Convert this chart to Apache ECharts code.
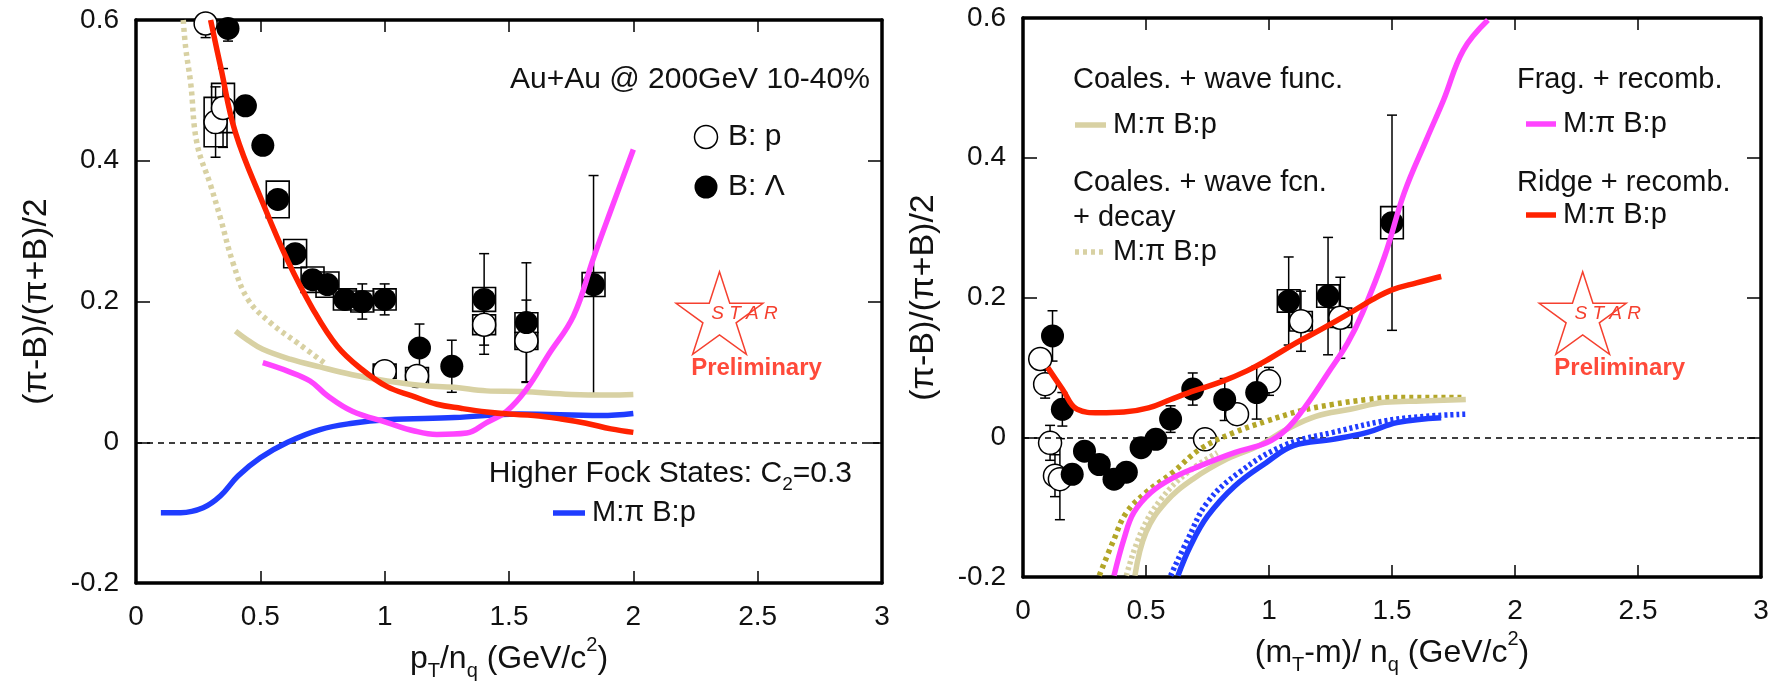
<!DOCTYPE html>
<html>
<head>
<meta charset="utf-8">
<script src="https://cdn.jsdelivr.net/npm/echarts@6/dist/echarts.min.js"></script>
<style>
html, body { margin: 0; padding: 0; background: #fff; }
#chart { width: 1773px; height: 688px; }
</style>
</head>
<body>
<div id="chart"></div>
<script>
// ---------- left panel: x = pT/nq ----------
// data points, B: p (open)
const pX    = [0.28, 0.32, 0.35, 1.00, 1.13, 1.40, 1.57];
const pY    = [0.595, 0.455, 0.475, 0.101, 0.094, 0.167, 0.144];
const pStat = [0.02, 0.05, 0.056, 0.012, 0.012, 0.042, 0.058];
const pSys  = [0, 0.035, 0.035, 0.01, 0.012, 0.014, 0.012];

// data points, B: Lambda (filled)
const lamX    = [0.37, 0.44, 0.51, 0.57, 0.64, 0.71, 0.77, 0.84, 0.91, 1.00, 1.14, 1.27, 1.40, 1.57, 1.84];
const lamY    = [0.588, 0.478, 0.422, 0.345, 0.268, 0.231, 0.224, 0.203, 0.200, 0.203, 0.134, 0.108, 0.203, 0.170, 0.224];
const lamStat = [0.018, 0.008, 0.008, 0.01, 0.01, 0.01, 0.01, 0.012, 0.025, 0.022, 0.034, 0.037, 0.065, 0.085, 0.155];
const lamSys  = [0, 0, 0, 0.026, 0.02, 0.018, 0.018, 0.015, 0.015, 0.015, 0, 0, 0.017, 0.014, 0.017];

// model curves
const ridgeX = [0.30, 0.34, 0.40, 0.51, 0.61, 0.71, 0.81, 0.91, 1.01, 1.11, 1.21, 1.31, 1.41, 1.50, 1.60, 1.71, 1.81, 1.91, 2.00];
const ridgeY = [0.60, 0.534, 0.44, 0.34, 0.258, 0.19, 0.136, 0.103, 0.079, 0.066, 0.054, 0.048, 0.043, 0.040, 0.038, 0.033, 0.027, 0.019, 0.014];

const waveX = [0.40, 0.45, 0.51, 0.62, 0.74, 0.87, 1.01, 1.14, 1.28, 1.41, 1.55, 1.75, 1.90, 2.00];
const waveY = [0.158, 0.145, 0.132, 0.118, 0.107, 0.096, 0.087, 0.081, 0.078, 0.073, 0.072, 0.068, 0.067, 0.068];

const decayX = [0.19, 0.20, 0.22, 0.245, 0.30, 0.34, 0.39, 0.45, 0.54, 0.65, 0.76];
const decayY = [0.60, 0.56, 0.51, 0.425, 0.365, 0.318, 0.255, 0.203, 0.170, 0.141, 0.112];

const fragX = [0.51, 0.61, 0.70, 0.77, 0.87, 1.01, 1.12, 1.21, 1.33, 1.41, 1.49, 1.57, 1.66, 1.76, 1.84, 1.91, 2.00];
const fragY = [0.113, 0.101, 0.087, 0.066, 0.044, 0.028, 0.016, 0.011, 0.013, 0.028, 0.044, 0.075, 0.125, 0.180, 0.262, 0.330, 0.416];

const fockX = [0.10, 0.18, 0.27, 0.34, 0.41, 0.50, 0.61, 0.74, 0.87, 1.01, 1.28, 1.54, 1.87, 2.00];
const fockY = [-0.100, -0.100, -0.093, -0.076, -0.048, -0.022, 0.0, 0.018, 0.027, 0.032, 0.035, 0.040, 0.038, 0.041];

// ---------- right panel: x = (mT-m)/nq ----------
const rpX    = [0.07, 0.09, 0.11, 0.13, 0.15, 0.74, 0.87, 1.00, 1.13, 1.29];
const rpY    = [0.112, 0.076, -0.008, -0.055, -0.060, -0.003, 0.033, 0.080, 0.166, 0.171];
const rpStat = [0.01, 0.02, 0.025, 0.03, 0.058, 0.01, 0.012, 0.02, 0.043, 0.058];
const rpSys  = [0, 0, 0, 0, 0, 0, 0, 0, 0.014, 0.014];

const rlX    = [0.12, 0.16, 0.20, 0.25, 0.31, 0.37, 0.42, 0.48, 0.54, 0.60, 0.69, 0.82, 0.95, 1.08, 1.24, 1.50];
const rlY    = [0.145, 0.040, -0.053, -0.020, -0.039, -0.060, -0.050, -0.015, -0.003, 0.026, 0.069, 0.054, 0.064, 0.195, 0.202, 0.307];
const rlStat = [0.036, 0.024, 0.01, 0.01, 0.01, 0.01, 0.01, 0.01, 0.012, 0.019, 0.023, 0.03, 0.038, 0.063, 0.084, 0.154];
const rlSys  = [0, 0, 0, 0, 0, 0, 0, 0, 0, 0, 0, 0, 0, 0.016, 0.016, 0.023];

const rRidgeX = [0.10, 0.16, 0.22, 0.31, 0.41, 0.51, 0.60, 0.70, 0.81, 0.91, 1.00, 1.11, 1.21, 1.33, 1.42, 1.50, 1.60, 1.70];
const rRidgeY = [0.100, 0.069, 0.040, 0.035, 0.036, 0.042, 0.054, 0.067, 0.080, 0.095, 0.112, 0.135, 0.154, 0.178, 0.197, 0.211, 0.221, 0.230];

const rFragX = [0.37, 0.41, 0.45, 0.52, 0.61, 0.72, 0.86, 0.99, 1.07, 1.15, 1.24, 1.32, 1.38, 1.47, 1.55, 1.64, 1.71, 1.79, 1.89];
const rFragY = [-0.198, -0.146, -0.108, -0.079, -0.058, -0.041, -0.022, -0.008, 0.011, 0.045, 0.092, 0.135, 0.178, 0.259, 0.350, 0.426, 0.483, 0.554, 0.597];

const rWaveX = [0.455, 0.50, 0.58, 0.69, 0.83, 0.96, 1.07, 1.19, 1.33, 1.47, 1.62, 1.80];
const rWaveY = [-0.198, -0.136, -0.093, -0.060, -0.031, -0.012, 0.011, 0.030, 0.040, 0.050, 0.052, 0.054];

const rDecayX = [0.42, 0.48, 0.56, 0.67, 0.79];
const rDecayY = [-0.198, -0.136, -0.089, -0.050, -0.022];

const rOliveX = [0.31, 0.37, 0.42, 0.50, 0.61, 0.72, 0.86, 0.99, 1.13, 1.26, 1.40, 1.52, 1.79];
const rOliveY = [-0.198, -0.146, -0.108, -0.079, -0.050, -0.017, 0.007, 0.023, 0.038, 0.047, 0.054, 0.057, 0.057];

const rFockX = [0.63, 0.68, 0.75, 0.86, 0.99, 1.10, 1.26, 1.40, 1.52, 1.70];
const rFockY = [-0.198, -0.156, -0.113, -0.070, -0.036, -0.012, -0.003, 0.007, 0.021, 0.028];

const rFockDotX = [0.60, 0.67, 0.75, 0.88, 1.06, 1.26, 1.52, 1.80];
const rFockDotY = [-0.198, -0.146, -0.093, -0.050, -0.012, 0.007, 0.026, 0.033];

// axis ticks
const xMin = 0, xMax = 3, xStep = 0.5;
const yMin = -0.2, yMax = 0.6, yStep = 0.2;

const RED = '#ff2200', MAGENTA = '#ff44ff', KHAKI = '#d8d1a3', OLIVE = '#b3a628', BLUE = '#1f3cff';
const STARRED = '#f5402f';
const FONT = 'Liberation Sans';

const pairs = (xs, ys) => xs.map((x, i) => [x, ys[i]]);
const ranges = (xs, ys, es) => xs.map((x, i) => [x, ys[i] - es[i], ys[i] + es[i]]);

const curve = (xs, ys, color, idx, dash) => ({
    type: 'line', xAxisIndex: idx, yAxisIndex: idx,
    data: pairs(xs, ys), symbol: 'none', smooth: 0.4,
    lineStyle: { color, width: 5.5, type: dash || 'solid' }, z: 6, silent: true
});

const renderErr = (params, api) => {
    const top = api.coord([api.value(0), api.value(2)]);
    const bot = api.coord([api.value(0), api.value(1)]);
    const cap = 5;
    const st = { stroke: '#000', lineWidth: 1.5 };
    return { type: 'group', children: [
        { type: 'line', shape: { x1: top[0], y1: top[1], x2: bot[0], y2: bot[1] }, style: st },
        { type: 'line', shape: { x1: top[0] - cap, y1: top[1], x2: top[0] + cap, y2: top[1] }, style: st },
        { type: 'line', shape: { x1: bot[0] - cap, y1: bot[1], x2: bot[0] + cap, y2: bot[1] }, style: st }
    ]};
};

const renderBox = (params, api) => {
    if (api.value(2) - api.value(1) <= 0) return null;
    const a = api.coord([api.value(0) - 0.046, api.value(2)]);
    const b = api.coord([api.value(0) + 0.046, api.value(1)]);
    return { type: 'rect', shape: { x: a[0], y: a[1], width: b[0] - a[0], height: b[1] - a[1] },
        style: { fill: 'none', stroke: '#000', lineWidth: 1.6 } };
};

const points = (xs, ys, stat, sys, idx, open) => [
    { type: 'custom', xAxisIndex: idx, yAxisIndex: idx, renderItem: renderBox, data: ranges(xs, ys, sys), z: 2, clip: true, silent: true },
    { type: 'custom', xAxisIndex: idx, yAxisIndex: idx, renderItem: renderErr, data: ranges(xs, ys, stat), z: 3, clip: true, silent: true },
    { type: 'scatter', xAxisIndex: idx, yAxisIndex: idx, data: pairs(xs, ys), symbol: 'circle', symbolSize: 23,
      itemStyle: open ? { color: '#fff', borderColor: '#000', borderWidth: 1.5, opacity: 1 } : { color: '#000', opacity: 1 },
      z: 4, silent: true }
];

const zeroLine = (idx) => ({
    type: 'line', xAxisIndex: idx, yAxisIndex: idx, data: [], z: 1,
    markLine: { silent: true, symbol: 'none', label: { show: false },
        lineStyle: { color: '#000', width: 1.5, type: [6, 5] }, data: [{ yAxis: 0 }] }
});

const fmt = v => String(Number(v.toFixed(2)));
const xAxisDef = (grid, pos, labels, name) => ({
    type: 'value', gridIndex: grid, position: pos, min: xMin, max: xMax, interval: xStep,
    splitLine: { show: false },
    axisLine: { show: true, onZero: false, lineStyle: { color: '#000', width: 3.5 } },
    axisTick: { show: true, inside: true, length: 12, lineStyle: { color: '#000', width: 1.5 } },
    axisLabel: { show: labels, formatter: fmt, fontFamily: FONT, fontSize: 28, color: '#111', margin: 20 },
    name: name || '', nameLocation: 'middle', nameGap: 50,
    nameTextStyle: { fontFamily: FONT, fontSize: 32, color: '#111', rich: {
        m: { fontFamily: FONT, fontSize: 32, color: '#111', lineHeight: 46 },
        s: { fontFamily: FONT, fontSize: 20, color: '#111', lineHeight: 14, verticalAlign: 'bottom' },
        u: { fontFamily: FONT, fontSize: 20, color: '#111', lineHeight: 30, verticalAlign: 'top' }
    } }
});
const yAxisDef = (grid, pos, labels, name) => ({
    type: 'value', gridIndex: grid, position: pos, min: yMin, max: yMax, interval: yStep,
    splitLine: { show: false },
    axisLine: { show: true, onZero: false, lineStyle: { color: '#000', width: 3.5 } },
    axisTick: { show: true, inside: true, length: 14, lineStyle: { color: '#000', width: 1.5 } },
    axisLabel: { show: labels, formatter: fmt, fontFamily: FONT, fontSize: 28, color: '#111', margin: 17 },
    name: name || '', nameLocation: 'middle', nameGap: 82, nameRotate: 90,
    nameTextStyle: { fontFamily: FONT, fontSize: 34, color: '#111' }
});

// star outline for the STAR logo
const starPoints = (cx, cy, R) => {
    const pts = [];
    for (let k = 0; k < 10; k++) {
        const r = k % 2 ? R * 0.382 : R;
        const a = -Math.PI / 2 + k * Math.PI / 5;
        pts.push([cx + r * Math.cos(a), cy + r * Math.sin(a)]);
    }
    return pts;
};

const txt = (x, y, text, size, opts) => ({
    type: 'text', x, y, z: 20,
    style: Object.assign({ text, fontFamily: FONT, fontSize: size, fill: '#111', verticalAlign: 'middle', align: 'left' }, (opts || {}))
});
const seg = (x1, x2, y, color, dash) => ({
    type: 'line', z: 20, shape: { x1, y1: y, x2, y2: y },
    style: { stroke: color, lineWidth: 5.5, lineDash: dash || null }
});
const logo = (cx, cy) => [
    { type: 'polygon', z: 20, shape: { points: starPoints(cx, cy, 45.7) }, style: { fill: 'none', stroke: STARRED, lineWidth: 1.5 } },
    txt(cx + 25, cy - 4, 'S T A R', 19, { fill: STARRED, fontStyle: 'italic', align: 'center' }),
    txt(cx + 37, cy + 51, 'Preliminary', 24, { fill: '#ff4a3a', fontWeight: 'bold', align: 'center' })
];

const myChart = echarts.init(document.getElementById('chart'), null, { renderer: 'canvas' });

const option = {
    animation: false,
    backgroundColor: '#fff',
    grid: [
        { left: 136, top: 20, width: 746, height: 563 },
        { left: 1023, top: 18, width: 738, height: 559 }
    ],
    xAxis: [
        xAxisDef(0, 'bottom', true, '{m|p}{s|T}{m|/n}{s|q}{m| (GeV/c}{u|2}{m|)}'),
        xAxisDef(0, 'top', false),
        xAxisDef(1, 'bottom', true, '{m|(m}{s|T}{m|-m)/ n}{s|q}{m| (GeV/c}{u|2}{m|)}'),
        xAxisDef(1, 'top', false)
    ],
    yAxis: [
        yAxisDef(0, 'left', true, '(π-B)/(π+B)/2'),
        yAxisDef(0, 'right', false),
        yAxisDef(1, 'left', true, '(π-B)/(π+B)/2'),
        yAxisDef(1, 'right', false)
    ],
    graphic: [
        // left panel annotations
        txt(510, 80, 'Au+Au @ 200GeV 10-40%', 30),
        { type: 'circle', z: 20, shape: { cx: 706, cy: 137, r: 11.5 }, style: { fill: '#fff', stroke: '#000', lineWidth: 1.5 } },
        txt(728, 137, 'B: p', 30),
        { type: 'circle', z: 20, shape: { cx: 706, cy: 187, r: 11.5 }, style: { fill: '#000' } },
        txt(728, 187, 'B: Λ', 30),
        ...logo(719.5, 317.4),
        txt(852, 474, '{m|Higher Fock States: C}{s|2}{m|=0.3}', 30, { align: 'right', rich: {
            m: { fontFamily: FONT, fontSize: 30, fill: '#111', lineHeight: 40 },
            s: { fontFamily: FONT, fontSize: 19, fill: '#111', lineHeight: 14, verticalAlign: 'bottom' } } }),
        seg(553, 585, 513, BLUE),
        txt(592, 513, 'M:π B:p', 29),
        // right panel annotations
        txt(1073, 80, 'Coales. + wave func.', 29),
        seg(1075, 1106, 125, KHAKI),
        txt(1113, 125, 'M:π B:p', 29),
        txt(1073, 183, 'Coales. + wave fcn.', 29),
        txt(1073, 218, '+ decay', 29),
        seg(1075, 1106, 252, KHAKI, [4, 4]),
        txt(1113, 252, 'M:π B:p', 29),
        txt(1517, 80, 'Frag. + recomb.', 29),
        seg(1526, 1556, 124, MAGENTA),
        txt(1563, 124, 'M:π B:p', 29),
        txt(1517, 183, 'Ridge + recomb.', 29),
        seg(1526, 1556, 215, RED),
        txt(1563, 215, 'M:π B:p', 29),
        ...logo(1582.7, 317.4)
    ],
    series: [
        zeroLine(0),
        ...points(pX, pY, pStat, pSys, 0, true),
        ...points(lamX, lamY, lamStat, lamSys, 0, false),
        curve(decayX, decayY, KHAKI, 0, [4, 4]),
        curve(waveX, waveY, KHAKI, 0),
        curve(fockX, fockY, BLUE, 0),
        curve(fragX, fragY, MAGENTA, 0),
        curve(ridgeX, ridgeY, RED, 0),

        zeroLine(2),
        ...points(rpX, rpY, rpStat, rpSys, 2, true),
        ...points(rlX, rlY, rlStat, rlSys, 2, false),
        curve(rOliveX, rOliveY, OLIVE, 2, [4, 4]),
        curve(rWaveX, rWaveY, KHAKI, 2),
        curve(rDecayX, rDecayY, KHAKI, 2, [3, 3]),
        curve(rFockDotX, rFockDotY, BLUE, 2, [3, 3]),
        curve(rFockX, rFockY, BLUE, 2),
        curve(rFragX, rFragY, MAGENTA, 2),
        curve(rRidgeX, rRidgeY, RED, 2)
    ]
};

myChart.setOption(option);
</script>
</body>
</html>
